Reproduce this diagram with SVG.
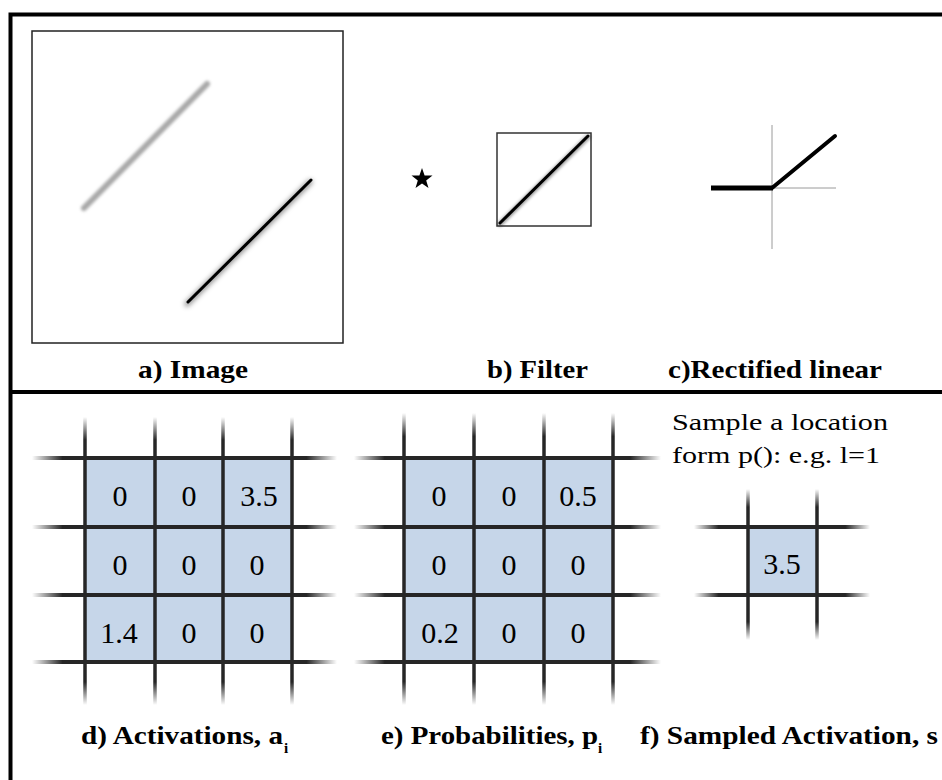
<svg xmlns="http://www.w3.org/2000/svg" width="942" height="780" viewBox="0 0 942 780">
<defs>
<linearGradient id="vfadeL" x1="0" y1="0" x2="0" y2="1">
<stop offset="0" stop-color="#262626" stop-opacity="0"/>
<stop offset="0.08" stop-color="#262626" stop-opacity="1"/>
<stop offset="0.92" stop-color="#262626" stop-opacity="1"/>
<stop offset="1" stop-color="#262626" stop-opacity="0"/>
</linearGradient>
<linearGradient id="hfadeL" x1="0" y1="0" x2="1" y2="0">
<stop offset="0" stop-color="#262626" stop-opacity="0"/>
<stop offset="0.1" stop-color="#262626" stop-opacity="1"/>
<stop offset="0.9" stop-color="#262626" stop-opacity="1"/>
<stop offset="1" stop-color="#262626" stop-opacity="0"/>
</linearGradient>
<linearGradient id="vfadeS" x1="0" y1="0" x2="0" y2="1">
<stop offset="0" stop-color="#262626" stop-opacity="0"/>
<stop offset="0.12" stop-color="#262626" stop-opacity="1"/>
<stop offset="0.88" stop-color="#262626" stop-opacity="1"/>
<stop offset="1" stop-color="#262626" stop-opacity="0"/>
</linearGradient>
<linearGradient id="hfadeS" x1="0" y1="0" x2="1" y2="0">
<stop offset="0" stop-color="#262626" stop-opacity="0"/>
<stop offset="0.14" stop-color="#262626" stop-opacity="1"/>
<stop offset="0.86" stop-color="#262626" stop-opacity="1"/>
<stop offset="1" stop-color="#262626" stop-opacity="0"/>
</linearGradient>
<filter id="blur1" x="-20%" y="-20%" width="140%" height="140%"><feGaussianBlur stdDeviation="1.5"/></filter>
<filter id="blur2" x="-20%" y="-20%" width="140%" height="140%"><feGaussianBlur stdDeviation="2.5"/></filter>
</defs>
<rect width="942" height="780" fill="#fff"/>
<g id="frame">
<rect x="10.5" y="14.5" width="945" height="780" fill="none" stroke="#000" stroke-width="4"/>
<line x1="10" y1="392" x2="942" y2="392" stroke="#000" stroke-width="4"/>
</g>
<g id="connectors"></g>
<g id="panel-a">
<rect x="32" y="31" width="311" height="312" fill="#fff" stroke="#222" stroke-width="1.5"/>
<line x1="84" y1="208" x2="207" y2="84" stroke="#a8a8a8" stroke-width="6" stroke-linecap="round" filter="url(#blur1)"/>
<line x1="187" y1="304" x2="310" y2="182" stroke="#000" stroke-opacity="0.45" stroke-width="5" stroke-linecap="round" filter="url(#blur2)"/>
<line x1="188" y1="302" x2="311" y2="180" stroke="#000" stroke-width="3" stroke-linecap="round"/>
</g>
<g id="star">
<polygon points="422,168 424.6,175.4 432.5,175.6 426.2,180.4 428.5,187.9 422,183.4 415.5,187.9 417.8,180.4 411.5,175.6 419.4,175.4" fill="#000"/>
</g>
<g id="panel-b">
<rect x="497" y="133" width="94" height="93" fill="#fff" stroke="#333" stroke-width="1.5"/>
<line x1="500" y1="224" x2="588" y2="137" stroke="#000" stroke-opacity="0.4" stroke-width="5" stroke-linecap="round" filter="url(#blur1)"/>
<line x1="500" y1="223" x2="588" y2="136" stroke="#000" stroke-width="3" stroke-linecap="round"/>
</g>
<g id="panel-c">
<line x1="772" y1="125" x2="772" y2="249" stroke="#9a9a9a" stroke-width="1"/>
<line x1="772" y1="188" x2="836" y2="188" stroke="#9a9a9a" stroke-width="1"/>
<line x1="711" y1="188" x2="773" y2="188" stroke="#000" stroke-width="5"/>
<line x1="772" y1="188" x2="835" y2="136" stroke="#000" stroke-width="4" stroke-linecap="round"/>
</g>
<g id="panel-d">
<rect fill="#c6d6e9" x="85" y="458" width="207" height="204"/>
<rect fill="url(#vfadeL)" x="83.25" y="417" width="3.5" height="288"/>
<rect fill="url(#vfadeL)" x="153.25" y="417" width="3.5" height="288"/>
<rect fill="url(#vfadeL)" x="221.25" y="417" width="3.5" height="288"/>
<rect fill="url(#vfadeL)" x="290.25" y="417" width="3.5" height="288"/>
<rect fill="url(#hfadeL)" x="32" y="456" width="305" height="4"/>
<rect fill="url(#hfadeL)" x="32" y="525" width="305" height="4"/>
<rect fill="url(#hfadeL)" x="32" y="593" width="305" height="4"/>
<rect fill="url(#hfadeL)" x="32" y="660" width="305" height="4"/>
</g>
<g id="panel-e">
<rect fill="#c6d6e9" x="404" y="458" width="209" height="204"/>
<rect fill="url(#vfadeL)" x="402.25" y="413" width="3.5" height="292"/>
<rect fill="url(#vfadeL)" x="472.25" y="413" width="3.5" height="292"/>
<rect fill="url(#vfadeL)" x="542.25" y="413" width="3.5" height="292"/>
<rect fill="url(#vfadeL)" x="611.25" y="413" width="3.5" height="292"/>
<rect fill="url(#hfadeL)" x="354" y="456" width="307" height="4"/>
<rect fill="url(#hfadeL)" x="354" y="525" width="307" height="4"/>
<rect fill="url(#hfadeL)" x="354" y="593" width="307" height="4"/>
<rect fill="url(#hfadeL)" x="354" y="660" width="307" height="4"/>
</g>
<g id="panel-f">
<rect fill="#c6d6e9" x="748" y="527" width="69" height="68"/>
<rect fill="url(#vfadeS)" x="746.25" y="489" width="3.5" height="151"/>
<rect fill="url(#vfadeS)" x="815.25" y="489" width="3.5" height="151"/>
<rect fill="url(#hfadeS)" x="694" y="525" width="176" height="4"/>
<rect fill="url(#hfadeS)" x="694" y="593" width="176" height="4"/>
</g>
<text x="138" y="378" font-family="Times New Roman" font-size="25" font-weight="bold" textLength="110" lengthAdjust="spacingAndGlyphs">a) Image</text>
<text x="487" y="378" font-family="Times New Roman" font-size="25" font-weight="bold" textLength="101" lengthAdjust="spacingAndGlyphs">b) Filter</text>
<text x="668" y="378" font-family="Times New Roman" font-size="25" font-weight="bold" textLength="214" lengthAdjust="spacingAndGlyphs">c)Rectified linear</text>
<text x="120" y="506" font-family="Times New Roman" font-size="30" text-anchor="middle">0</text>
<text x="189" y="506" font-family="Times New Roman" font-size="30" text-anchor="middle">0</text>
<text x="259" y="506" font-family="Times New Roman" font-size="30" text-anchor="middle">3.5</text>
<text x="120" y="575" font-family="Times New Roman" font-size="30" text-anchor="middle">0</text>
<text x="189" y="575" font-family="Times New Roman" font-size="30" text-anchor="middle">0</text>
<text x="257" y="575" font-family="Times New Roman" font-size="30" text-anchor="middle">0</text>
<text x="119" y="643" font-family="Times New Roman" font-size="30" text-anchor="middle">1.4</text>
<text x="189" y="643" font-family="Times New Roman" font-size="30" text-anchor="middle">0</text>
<text x="257" y="643" font-family="Times New Roman" font-size="30" text-anchor="middle">0</text>
<text x="81" y="744" font-family="Times New Roman" font-size="25" font-weight="bold" textLength="202" lengthAdjust="spacingAndGlyphs">d) Activations, a</text>
<text x="284" y="753" font-family="Times New Roman" font-size="15" font-weight="bold">i</text>
<text x="439" y="506" font-family="Times New Roman" font-size="30" text-anchor="middle">0</text>
<text x="509" y="506" font-family="Times New Roman" font-size="30" text-anchor="middle">0</text>
<text x="578" y="506" font-family="Times New Roman" font-size="30" text-anchor="middle">0.5</text>
<text x="439" y="575" font-family="Times New Roman" font-size="30" text-anchor="middle">0</text>
<text x="509" y="575" font-family="Times New Roman" font-size="30" text-anchor="middle">0</text>
<text x="578" y="575" font-family="Times New Roman" font-size="30" text-anchor="middle">0</text>
<text x="440" y="643" font-family="Times New Roman" font-size="30" text-anchor="middle">0.2</text>
<text x="509" y="643" font-family="Times New Roman" font-size="30" text-anchor="middle">0</text>
<text x="578" y="643" font-family="Times New Roman" font-size="30" text-anchor="middle">0</text>
<text x="381" y="744" font-family="Times New Roman" font-size="25" font-weight="bold" textLength="217" lengthAdjust="spacingAndGlyphs">e) Probabilities, p</text>
<text x="598" y="753" font-family="Times New Roman" font-size="15" font-weight="bold">i</text>
<text x="672" y="430" font-family="Times New Roman" font-size="24" textLength="216" lengthAdjust="spacingAndGlyphs">Sample a location</text>
<text x="672" y="463" font-family="Times New Roman" font-size="24" textLength="208" lengthAdjust="spacingAndGlyphs">form p(): e.g. l=1</text>
<text x="782" y="574" font-family="Times New Roman" font-size="30" text-anchor="middle">3.5</text>
<text x="640" y="744" font-family="Times New Roman" font-size="25" font-weight="bold" textLength="298" lengthAdjust="spacingAndGlyphs">f) Sampled Activation, s</text>
</svg>
